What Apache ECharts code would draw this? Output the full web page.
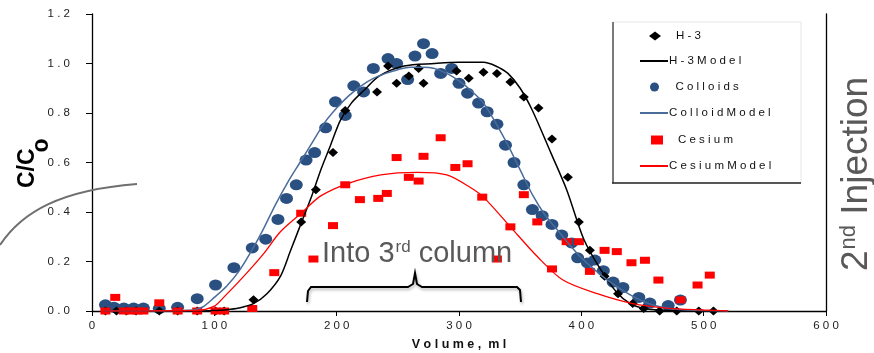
<!DOCTYPE html>
<html>
<head>
<meta charset="utf-8">
<script src="https://cdn.jsdelivr.net/npm/echarts@6/dist/echarts.min.js"></script>
<style>html,body{margin:0;padding:0;background:#fff}#c{width:874px;height:353px}</style>
</head>
<body>
<div id="c"></div>
<script>
// ---- data (volume ml, C/Co) ----
const xTicks = [0, 100, 200, 300, 400, 500, 600];
const yTicks = [0, 0.2, 0.4, 0.6, 0.8, 1.0, 1.2];

const h3Points = [[11,0],[20,0],[28,0],[36,0],[55,0],[70,0],[86,0],[101,0],[108,0],
  [132,0.045],[171,0.36],[183,0.49],[197,0.64],[207,0.81],[233,0.885],[242,0.99],[249,0.92],
  [259,0.95],[267,0.98],[271,0.92],[298,0.97],[308,0.94],[320,0.965],[331,0.96],[342,0.925],
  [353,0.865],[365,0.82],[376,0.695],[389,0.54],[398,0.36],[407,0.245],[419,0.14],[430,0.07],
  [442,0.03],[451,0.01],[464,0],[478,0],[496,0],[508,0]];

const h3Model = [[10,0],[90,0],[100,0.002],[110,0.005],[120,0.012],[132,0.03],[143,0.07],[154,0.14],
  [162,0.24],[171,0.355],[180,0.47],[187,0.57],[195,0.67],[203,0.77],[212,0.84],[222,0.89],[235,0.95],
  [255,0.99],[280,1.0],[300,1.005],[320,1.005],[330,0.99],[340,0.96],[350,0.9],[360,0.81],[375,0.64],
  [388,0.49],[402,0.29],[416,0.166],[429,0.075],[440,0.03],[452,0.01],[470,0.002],[520,0]];

const colloidPoints = [[11,0.025],[18,0.015],[26,0.012],[34,0.012],[42,0.012],[55,0.01],[70,0.015],
  [86,0.05],[101,0.105],[116,0.175],[131,0.255],[142,0.29],[152,0.37],[159,0.455],[167,0.51],[175,0.61],
  [182,0.64],[191,0.74],[199,0.845],[207,0.79],[214,0.91],[222,0.885],[230,0.98],[242,1.02],[249,1.0],
  [258,0.935],[264,1.03],[271,1.08],[278,1.04],[285,0.96],[294,0.98],[300,0.92],[307,0.88],[316,0.84],
  [323,0.805],[331,0.755],[338,0.67],[345,0.6],[353,0.51],[360,0.41],[368,0.385],[376,0.35],[384,0.307],
  [392,0.275],[397,0.215],[405,0.194],[411,0.206],[418,0.163],[426,0.117],[434,0.095],[447,0.055],
  [456,0.032],[471,0.022],[481,0.044]];

const colloidModel = [[10,0],[80,0.003],[90,0.015],[100,0.055],[110,0.1],[120,0.16],[130,0.24],[140,0.33],
  [150,0.43],[160,0.52],[170,0.6],[180,0.68],[190,0.76],[200,0.82],[210,0.87],[220,0.91],[230,0.94],
  [240,0.96],[250,0.975],[260,0.985],[270,0.985],[280,0.98],[290,0.96],[300,0.93],[310,0.89],[320,0.84],
  [330,0.76],[340,0.67],[350,0.57],[360,0.47],[370,0.39],[380,0.33],[390,0.27],[400,0.215],[410,0.17],
  [420,0.13],[430,0.095],[440,0.065],[450,0.04],[460,0.022],[470,0.012],[480,0.006],[500,0.002],[520,0]];

const cesiumPoints = [[11,0],[19,0.055],[26,0],[31,0],[37,0],[42,0],[55,0.033],[70,0],[86,0],[101,0],
  [108,0],[131,0.01],[149,0.155],[171,0.395],[181,0.21],[197,0.345],[207,0.51],[219,0.45],[234,0.455],
  [241,0.475],[249,0.62],[259,0.54],[267,0.525],[271,0.625],[285,0.7],[297,0.58],[307,0.595],[319,0.46],
  [331,0.21],[342,0.34],[353,0.47],[364,0.36],[376,0.17],[388,0.28],[398,0.28],[407,0.16],[419,0.245],
  [429,0.24],[441,0.195],[452,0.205],[463,0.125],[481,0.045],[495,0.105],[505,0.145]];

const cesiumModel = [[10,0],[85,0.002],[100,0.02],[108,0.057],[124,0.14],[140,0.23],[154,0.32],[171,0.395],
  [187,0.465],[209,0.515],[236,0.55],[266,0.56],[290,0.55],[309,0.5],[320,0.46],[342,0.34],[364,0.22],
  [385,0.125],[413,0.07],[442,0.03],[470,0.012],[500,0.004],[520,0]];

const seriesNames = ['H-3', 'H-3 Model', 'Colloids', 'Colloid Model', 'Cesium', 'Cesium Model'];

// ---- chart ----
const FONT = 'Liberation Sans';
const spaced = s => s.replace(/ /g, '').split('').join(' ');
const mctx = document.createElement('canvas').getContext('2d');
function tw(text, size, weight) {
  mctx.font = (weight || 'normal') + ' ' + size + 'px "' + FONT + '"';
  return mctx.measureText(text).width;
}
const chart = echarts.init(document.getElementById('c'), null, {renderer: 'canvas'});

function legendFor(name, left, cy, isLine) {
  return {
    data: [isLine ? {name: name, icon: 'rect'} : name], left: left, top: cy - 7, orient: 'vertical', padding: 0,
    itemWidth: isLine ? 28 : 12, itemHeight: isLine ? 2 : 9,
    selectedMode: false, z: 20,
    formatter: n => spaced(n),
    textStyle: {fontFamily: FONT, fontSize: 11.5, color: '#111', padding: isLine ? [0,0,0,-4] : [0,0,0,10]}
  };
}

// annotation text pieces
const annFs = 29, annSupFs = 17, annX = 322;
const annW1 = tw('Into 3', annFs), annWs = tw('rd', annSupFs);
const injFs = 37, injSupFs = 22, injY0 = 271;
const injW1 = tw('2', injFs), injWs = tw('nd', injSupFs);
const ccFs = 23, ccY0 = 188;
const ccW = tw('C/C', ccFs, 'bold');
const grey = '#595959';

const option = {
  animation: false,
  backgroundColor: '#fff',
  grid: {left: 92, right: 48, top: 14, bottom: 42, containLabel: false, outerBoundsMode: 'none'},
  xAxis: {
    type: 'value', min: xTicks[0], max: xTicks[xTicks.length - 1], interval: 100,
    name: spaced('Volume, ml').replace(', ', ',  '), nameLocation: 'middle', nameGap: 27,
    nameTextStyle: {fontFamily: FONT, fontSize: 12.5, fontWeight: 'bold', color: '#111'},
    axisLine: {show: true, lineStyle: {color: '#000', width: 1.3}},
    axisTick: {show: true, length: 5, lineStyle: {color: '#000'}},
    axisLabel: {fontFamily: FONT, fontSize: 11.5, color: '#222', margin: 9,
      formatter: v => String(v).split('').join(' ')},
    splitLine: {show: false}
  },
  yAxis: [{
    type: 'value', min: yTicks[0], max: yTicks[yTicks.length - 1], interval: 0.2,
    axisLine: {show: true, lineStyle: {color: '#000', width: 1.3}},
    axisTick: {show: true, length: 6, lineStyle: {color: '#000'}},
    axisLabel: {fontFamily: FONT, fontSize: 11.5, color: '#222', margin: 22,
      formatter: v => v.toFixed(1).split('').join(' ')},
    splitLine: {show: false}
  }, {
    type: 'value', position: 'right', min: 0, max: 1.2, interval: 0.2,
    axisLine: {show: true, lineStyle: {color: '#000', width: 1.3}},
    axisTick: {show: false}, axisLabel: {show: false}, splitLine: {show: false}
  }],
  legend: [
    legendFor(seriesNames[0], 649, 37, false),
    legendFor(seriesNames[1], 640, 62, true),
    legendFor(seriesNames[2], 650, 88, false),
    legendFor(seriesNames[3], 640, 114, true),
    legendFor(seriesNames[4], 651, 141, false),
    legendFor(seriesNames[5], 640, 167, true)
  ],
  series: [
    {name: seriesNames[2], type: 'scatter', data: colloidPoints, symbol: 'circle', symbolSize: [13, 11],
      itemStyle: {color: '#2A5082', opacity: 1}, z: 2},
    {name: seriesNames[0], type: 'scatter', data: h3Points, symbol: 'diamond', symbolSize: [10, 9],
      itemStyle: {color: '#000', opacity: 1}, z: 3},
    {name: seriesNames[4], type: 'scatter', data: cesiumPoints, symbol: 'rect', symbolSize: [10, 7],
      itemStyle: {color: '#FF0000', opacity: 1}, z: 4},
    {name: seriesNames[1], type: 'line', data: h3Model, smooth: 0.3, symbol: 'none',
      lineStyle: {color: '#000', width: 1.5}, itemStyle: {color: '#000'}, z: 5},
    {name: seriesNames[3], type: 'line', data: colloidModel, smooth: 0.3, symbol: 'none',
      lineStyle: {color: '#4A6C9B', width: 1.5}, itemStyle: {color: '#4A6C9B'}, z: 5},
    {name: seriesNames[5], type: 'line', data: cesiumModel, smooth: 0.3, symbol: 'none',
      lineStyle: {color: '#FF0000', width: 1.3}, itemStyle: {color: '#FF0000'}, z: 5}
  ],
  graphic: [
    // legend box
    {type: 'rect', z: 1, shape: {x: 613, y: 22, width: 188, height: 161},
      style: {fill: '#fff', stroke: '#e6e6e6', lineWidth: 1}},
    {type: 'line', z: 2, shape: {x1: 613, y1: 22, x2: 613, y2: 183}, style: {stroke: '#7a7a7a', lineWidth: 2}},
    {type: 'line', z: 2, shape: {x1: 612, y1: 183, x2: 801, y2: 183}, style: {stroke: '#222', lineWidth: 1.5}},
    // stray grey arc on the left
    {type: 'bezierCurve', z: 3, shape: {x1: 0, y1: 245, cpx1: 22, cpy1: 212, cpx2: 60, cpy2: 190, x2: 137, y2: 184},
      style: {stroke: '#6f6f6f', lineWidth: 2, fill: null}},
    // y axis title: C/Co
    {type: 'text', z: 10, x: 28, y: ccY0, rotation: Math.PI / 2,
      style: {text: 'C/C', fontFamily: FONT, fontSize: ccFs, fontWeight: 'bold', fill: '#000', align: 'left', verticalAlign: 'middle'}},
    {type: 'text', z: 10, x: 42, y: ccY0 - ccW + 4, rotation: Math.PI / 2,
      style: {text: 'o', fontFamily: FONT, fontSize: ccFs, fontWeight: 'bold', fill: '#000', align: 'left', verticalAlign: 'middle'}},
    // annotation "Into 3rd column"
    {type: 'text', z: 10, x: annX, y: 254,
      style: {text: 'Into 3', fontFamily: FONT, fontSize: annFs, fill: grey, align: 'left', verticalAlign: 'middle'}},
    {type: 'text', z: 10, x: annX + annW1 + 1, y: 247,
      style: {text: 'rd', fontFamily: FONT, fontSize: annSupFs, fill: grey, align: 'left', verticalAlign: 'middle'}},
    {type: 'text', z: 10, x: annX + annW1 + 1 + annWs, y: 254,
      style: {text: ' column', fontFamily: FONT, fontSize: annFs, fill: grey, align: 'left', verticalAlign: 'middle'}},
    // bracket
    {type: 'polyline', z: 10, shape: {points: [[307, 302], [308, 291], [311, 287], [408, 287], [413, 284], [415, 273],
      [417, 284], [422, 287], [517, 287], [520, 290], [521, 302]]},
      style: {stroke: '#000', lineWidth: 2, fill: null, shadowColor: 'rgba(0,0,0,0.3)', shadowBlur: 3, shadowOffsetX: 1, shadowOffsetY: 2}},
    // right label "2nd Injection"
    {type: 'text', z: 10, x: 857, y: injY0, rotation: Math.PI / 2,
      style: {text: '2', fontFamily: FONT, fontSize: injFs, fill: grey, align: 'left', verticalAlign: 'middle'}},
    {type: 'text', z: 10, x: 849, y: injY0 - injW1 - 1, rotation: Math.PI / 2,
      style: {text: 'nd', fontFamily: FONT, fontSize: injSupFs, fill: grey, align: 'left', verticalAlign: 'middle'}},
    {type: 'text', z: 10, x: 857, y: injY0 - injW1 - 1 - injWs, rotation: Math.PI / 2,
      style: {text: ' Injection', fontFamily: FONT, fontSize: injFs, fill: grey, align: 'left', verticalAlign: 'middle'}}
  ]
};
chart.setOption(option);
</script>
</body>
</html>
